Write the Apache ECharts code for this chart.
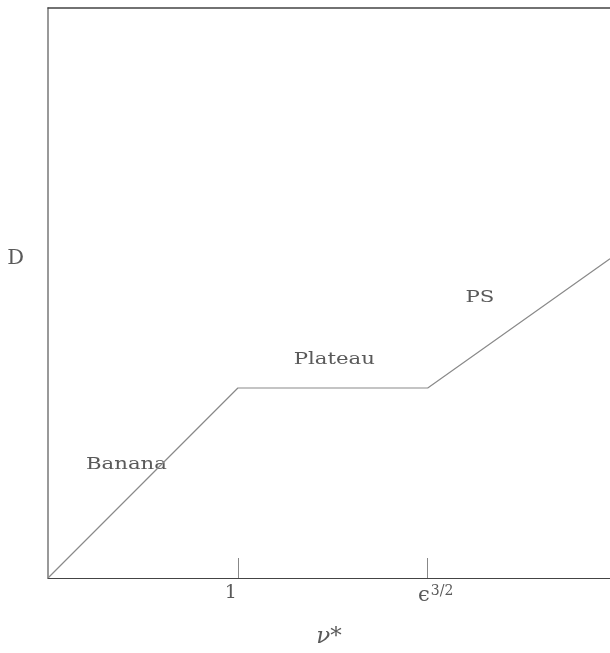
<!DOCTYPE html>
<html>
<head>
<meta charset="utf-8">
<script src="https://cdn.jsdelivr.net/npm/echarts@6/dist/echarts.min.js"></script>
<style>
  html, body { margin: 0; padding: 0; background: #fff; }
  #chart { width: 610px; height: 653px; }
</style>
</head>
<body>
<div id="chart"></div>
<script>
// Collisionality regimes: diffusion coefficient D versus normalised collisionality nu*
const nuStar = [0, 1, 2, 2.96];
const diffD = [0, 1, 1, 1.68];

// Break points marked on the nu* axis
const tickValues = [1, 2];
const tickLabels = ['1', 'ϵ^3/2'];

// Regime names and where they sit in (nu*, D)
const regimeNames = ['Banana', 'Plateau', 'PS'];
const regimeNu = [0.413, 1.508, 2.275];
const regimeD = [0.595, 1.147, 1.474];

// Height on the D axis where the axis title sits
const dTitle = 'D';
const dTitleLevel = 1.68;

const SERIF = '"DejaVu Serif", "Liberation Serif", serif';
const TEXT = '#5a5a5a';

const chart = echarts.init(document.getElementById('chart'), null, { renderer: 'canvas' });

chart.setOption({
  animation: false,
  backgroundColor: '#ffffff',
  grid: { left: 48, right: 0, top: 8, bottom: 75, outerBoundsMode: 'none', containLabel: false },
  xAxis: [
    {
      type: 'value',
      min: 0,
      max: 2.96,
      name: 'ν*',
      nameLocation: 'middle',
      nameGap: 48,
      nameTextStyle: { fontFamily: SERIF, fontStyle: 'italic', fontSize: 23, color: TEXT },
      axisLine: { show: true, lineStyle: { color: '#444', width: 1 } },
      axisTick: {
        show: true, inside: true, length: 20,
        customValues: tickValues,
        lineStyle: { color: '#888', width: 1 }
      },
      axisLabel: {
        show: true,
        margin: 6,
        customValues: tickValues,
        formatter: function (v) {
          const i = tickValues.indexOf(v);
          if (i === 0) return '{one|' + tickLabels[0] + '}';
          const parts = tickLabels[i].split('^');
          return '{eps|' + parts[0] + '}{sup|' + parts[1] + '}';
        },
        rich: {
          one: { fontFamily: SERIF, fontSize: 19, color: TEXT, padding: [0, 14, 0, 0] },
          eps: { fontFamily: SERIF, fontSize: 21, color: TEXT, padding: [0, 0, 0, 16], verticalAlign: 'bottom' },
          sup: { fontFamily: SERIF, fontSize: 14, color: TEXT, verticalAlign: 'top', padding: [0, 0, 8, 1] }
        }
      },
      splitLine: { show: false }
    },
    {
      type: 'value',
      position: 'top',
      min: 0,
      max: 2.96,
      axisLine: { show: true, lineStyle: { color: '#444', width: 1.5 } },
      axisTick: { show: false },
      axisLabel: { show: false },
      splitLine: { show: false }
    }
  ],
  yAxis: {
    type: 'value',
    min: 0,
    max: 3,
    axisLine: { show: true, lineStyle: { color: '#777', width: 1.5 } },
    axisTick: { show: false },
    axisLabel: { show: false },
    splitLine: { show: false }
  },
  series: [
    {
      type: 'line',
      xAxisIndex: 0,
      data: nuStar.map((x, i) => [x, diffD[i]]),
      symbol: 'none',
      lineStyle: { color: '#8a8a8a', width: 1.2 },
      silent: true
    }
  ]
});

// Regime names and the D title, placed through the grid's scales
const origin = chart.convertToPixel({ xAxisIndex: 0, yAxisIndex: 0 }, [0, dTitleLevel]);
const texts = regimeNames.map(function (name, i) {
  const p = chart.convertToPixel({ xAxisIndex: 0, yAxisIndex: 0 }, [regimeNu[i], regimeD[i]]);
  return {
    type: 'text',
    x: p[0],
    y: p[1],
    scaleX: 1.25,
    style: {
      text: name,
      font: '17px ' + SERIF,
      fill: TEXT,
      textAlign: 'center',
      textVerticalAlign: 'middle'
    }
  };
});
texts.push({
  type: 'text',
  x: origin[0] - 24,
  y: origin[1],
  style: {
    text: dTitle,
    font: '21px ' + SERIF,
    fill: TEXT,
    textAlign: 'right',
    textVerticalAlign: 'middle'
  }
});
chart.setOption({ graphic: texts });
</script>
</body>
</html>
